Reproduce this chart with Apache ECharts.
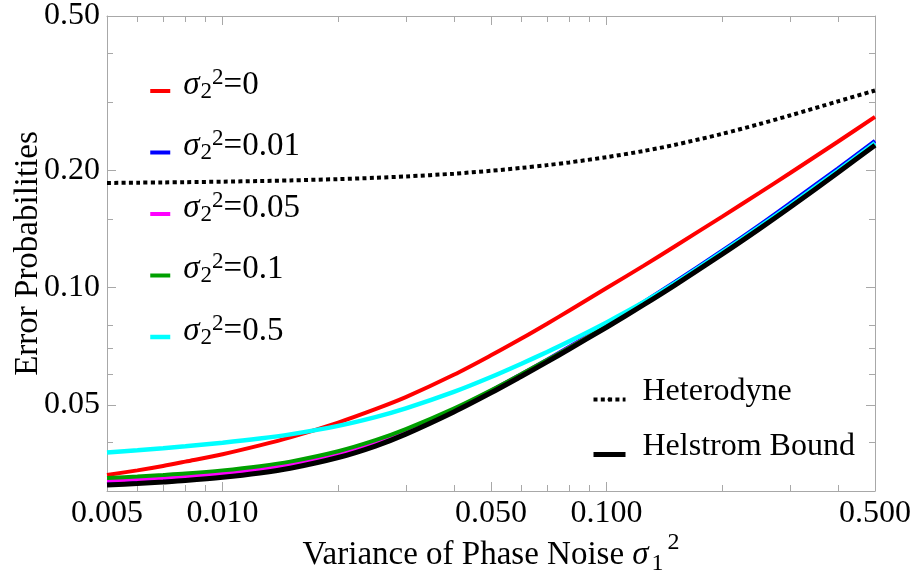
<!DOCTYPE html>
<html><head><meta charset="utf-8">
<script src="https://cdn.jsdelivr.net/npm/echarts@6/dist/echarts.min.js"></script>
<style>html,body{margin:0;padding:0;background:#fff}#c{width:914px;height:578px}</style>
</head><body><div id="c"></div>
<script>
const FONT = 'Liberation Serif';
// x: variance of phase noise sigma1^2
const xValues    = [0.005,0.006,0.007,0.008,0.01,0.0125,0.015,0.02,0.025,0.03,0.04,0.05,0.06,0.07,0.08,0.1,0.125,0.15,0.2,0.25,0.3,0.4,0.5];
const sigma2_0   = [0.0330,0.0339,0.0348,0.0357,0.0373,0.0393,0.0412,0.0450,0.0487,0.0523,0.0597,0.0670,0.0740,0.0808,0.0874,0.0998,0.1140,0.1275,0.1524,0.1754,0.1970,0.2374,0.2750];
const sigma2_001 = [0.03130,0.03155,0.03183,0.03211,0.03274,0.03358,0.03454,0.03680,0.03947,0.04240,0.04840,0.05426,0.05992,0.06530,0.07051,0.08031,0.09199,0.10321,0.12455,0.14496,0.16486,0.20253,0.23850];
const sigma2_005 = [0.03190,0.03214,0.03241,0.03268,0.03329,0.03411,0.03505,0.03731,0.03987,0.04270,0.04859,0.05431,0.05986,0.06510,0.07024,0.07992,0.09136,0.10230,0.12321,0.14312,0.16244,0.19957,0.23501];
const sigma2_01  = [0.03240,0.03267,0.03297,0.03326,0.03390,0.03475,0.03570,0.03797,0.04053,0.04328,0.04888,0.05448,0.05998,0.06517,0.07010,0.07976,0.09109,0.10190,0.12260,0.14241,0.16163,0.19858,0.23384];
const sigma2_05  = [0.03770,0.03821,0.03867,0.03910,0.03993,0.04093,0.04196,0.04413,0.04647,0.04893,0.05395,0.05893,0.06376,0.06837,0.07283,0.08145,0.09188,0.10240,0.12345,0.14340,0.16276,0.19996,0.23547];
const heterodyne = [0.1860,0.1863,0.18659,0.18688,0.18745,0.18814,0.18883,0.19027,0.19177,0.19331,0.19651,0.19990,0.20332,0.20672,0.21006,0.21668,0.22486,0.23292,0.24880,0.26366,0.27737,0.30152,0.32166];
const helstrom   = [0.03110,0.03136,0.03164,0.03192,0.03254,0.03338,0.03433,0.03658,0.03916,0.04202,0.04792,0.05367,0.05921,0.06446,0.06954,0.07913,0.09046,0.10129,0.12199,0.14170,0.16083,0.19759,0.23268];

const sigmaLabels = ['0','0.01','0.05','0.1','0.5'];
const xTickValues = [0.005,0.01,0.05,0.1,0.5];
const xTickLabels = ['0.005','0.010','0.050','0.100','0.500'];
const xMinorTicks = [0.006,0.007,0.008,0.009,0.02,0.03,0.04,0.06,0.07,0.08,0.09,0.2,0.3,0.4];
const yTickValues = [0.05,0.1,0.2,0.5];
const yTickLabels = ['0.05','0.10','0.20','0.50'];
const yMinorTicks = [0.04,0.06,0.07,0.08,0.15,0.3,0.4];

const GRAY = '#a8a8a8';
function pick(values, labels) {
  return function (v) {
    let best = 0, d = 1e9;
    values.forEach((t, i) => { const e = Math.abs(Math.log(t) - Math.log(v)); if (e < d) { d = e; best = i; } });
    return labels[best];
  };
}
function axisDef(dim, pos, ticks, len, extra) {
  const base = {
    type: 'log', logBase: 10, position: pos, gridIndex: 0,
    min: dim === 'x' ? 0.005 : 0.03, max: 0.5,
    axisLine: { show: false, onZero: false },
    splitLine: { show: false }, minorTick: { show: false },
    axisTick: { show: true, inside: true, length: len, customValues: ticks, lineStyle: { color: GRAY, width: 1 } },
    axisLabel: { show: false }
  };
  return Object.assign(base, extra || {});
}
const lineOn = { show: true, onZero: false, lineStyle: { color: GRAY, width: 1 } };
const tickFont = { fontFamily: FONT, fontSize: 32, color: '#000' };

const xAxes = [
  axisDef('x', 'bottom', xTickValues, 9, {
    axisLine: lineOn,
    axisLabel: Object.assign({ show: true, customValues: xTickValues, formatter: pick(xTickValues, xTickLabels), margin: 7 }, tickFont),
    name: '{a|Variance of Phase Noise }{s|σ}{sub|1}{sup|2}',
    nameLocation: 'middle', nameGap: 48, nameMoveOverlap: false,
    nameTextStyle: {
      fontFamily: FONT, fontSize: 33, color: '#000',
      rich: {
        a: { fontFamily: FONT, fontSize: 33, lineHeight: 33, color: '#000' },
        s: { fontFamily: FONT, fontSize: 33, lineHeight: 33, fontStyle: 'italic', color: '#000' },
        sub: { fontFamily: FONT, fontSize: 24, lineHeight: 24, padding: [16, 0, 0, 3], color: '#000' },
        sup: { fontFamily: FONT, fontSize: 24, lineHeight: 24, padding: [0, 0, 25, 4], color: '#000' }
      }
    }
  }),
  axisDef('x', 'bottom', xMinorTicks, 6),
  axisDef('x', 'top', xTickValues, 9, { axisLine: lineOn }),
  axisDef('x', 'top', xMinorTicks, 6)
];
const yAxes = [
  axisDef('y', 'left', yTickValues, 9, {
    axisLine: lineOn,
    axisLabel: Object.assign({ show: true, customValues: yTickValues, formatter: pick(yTickValues, yTickLabels), margin: 7 }, tickFont),
    name: 'Error Probabilities', nameLocation: 'middle', nameGap: 62, nameRotate: 90, nameMoveOverlap: false,
    nameTextStyle: { fontFamily: FONT, fontSize: 33, color: '#000' }
  }),
  axisDef('y', 'left', yMinorTicks, 6),
  axisDef('y', 'right', yTickValues, 9, { axisLine: lineOn }),
  axisDef('y', 'right', yMinorTicks, 6)
];

function mk(name, vals, color, width, extra) {
  return Object.assign({
    name, type: 'line', xAxisIndex: 0, yAxisIndex: 0,
    data: xValues.map((x, i) => [x, vals[i]]),
    symbol: 'none', showSymbol: false, smooth: 0.3, silent: true,
    lineStyle: { color, width, cap: 'butt' }, itemStyle: { color }
  }, extra || {});
}
const sigmaNames = sigmaLabels.map(l => 'σ2^2=' + l);
const series = [
  mk('Heterodyne', heterodyne, '#000000', 4, { lineStyle: { color: '#000', width: 4, type: [4, 3.3], cap: 'butt' } }),
  mk(sigmaNames[0], sigma2_0, '#ff0000', 4),
  mk(sigmaNames[1], sigma2_001, '#0000ff', 4),
  mk(sigmaNames[2], sigma2_005, '#ff00ff', 4),
  mk(sigmaNames[3], sigma2_01, '#00a000', 4),
  mk(sigmaNames[4], sigma2_05, '#00ffff', 4.5),
  mk('Helstrom Bound', helstrom, '#000000', 5)
];

// legend text: raised ~6px above its line icon (extra bottom padding on every token)
const legendRich = {
  s: { fontFamily: FONT, fontSize: 33, lineHeight: 33, fontStyle: 'italic', color: '#000', padding: [0, 0, 12, 0] },
  sub: { fontFamily: FONT, fontSize: 23, lineHeight: 23, padding: [13, 0, 12, 1], color: '#000' },
  sup: { fontFamily: FONT, fontSize: 23, lineHeight: 23, padding: [0, 0, 27, 0], color: '#000' },
  n: { fontFamily: FONT, fontSize: 33, lineHeight: 33, color: '#000', padding: [0, 0, 12, 0] }
};
const legendRich2 = {
  t: { fontFamily: FONT, fontSize: 32, lineHeight: 32, color: '#000', padding: [0, 0, 15, 0] }
};

const chart = echarts.init(document.getElementById('c'), null, { renderer: 'canvas' });
chart.setOption({
  animation: false,
  backgroundColor: '#fff',
  grid: { left: 107, right: 39, top: 16, bottom: 87, containLabel: false, outerBoundsMode: 'none' },
  xAxis: xAxes,
  yAxis: yAxes,
  legend: [
    {
      data: sigmaNames, orient: 'vertical', left: 148, top: 66, padding: 0,
      itemWidth: 20, itemHeight: 4, itemGap: 11.5, selectedMode: false,
      lineStyle: { width: 'inherit' },
      formatter: name => '{s|σ}{sub|2}{sup|2}{n|=' + sigmaLabels[sigmaNames.indexOf(name)] + '}',
      textStyle: { fontFamily: FONT, fontSize: 33, color: '#000', padding: [0, 0, 0, 8], rich: legendRich }
    },
    {
      data: ['Heterodyne', 'Helstrom Bound'], orient: 'vertical', left: 591, top: 376, padding: 0,
      itemWidth: 32, itemHeight: 5, itemGap: 8, selectedMode: false,
      lineStyle: { width: 'inherit' },
      formatter: name => '{t|' + name + '}',
      textStyle: { fontFamily: FONT, fontSize: 32, color: '#000', padding: [0, 0, 0, 12], rich: legendRich2 }
    }
  ],
  series
});
</script></body></html>
